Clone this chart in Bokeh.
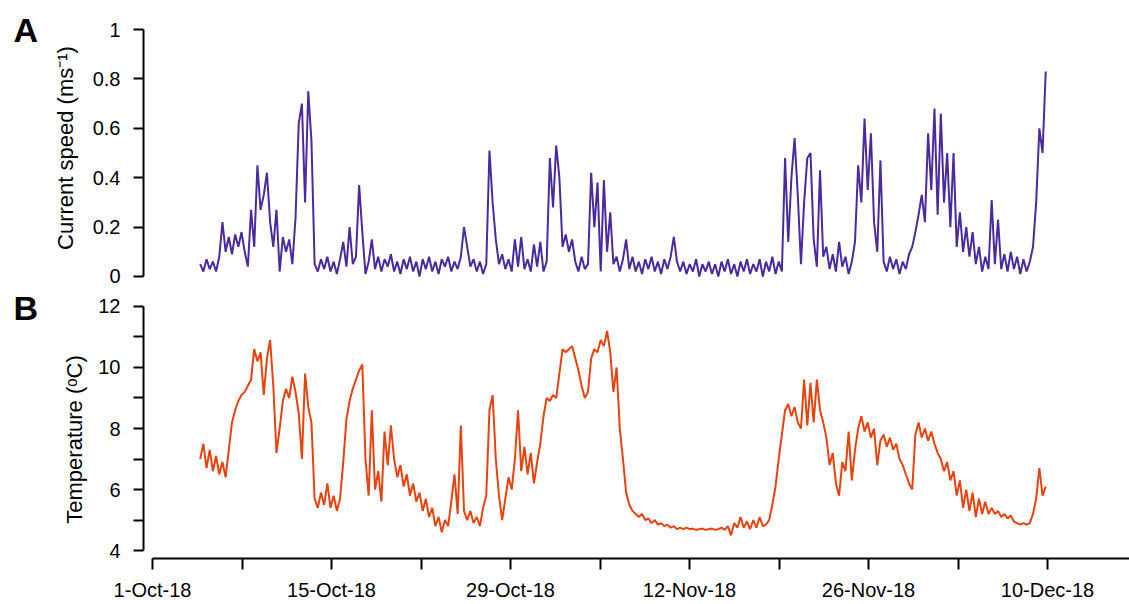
import numpy as np
from bokeh.plotting import figure
from bokeh.layouts import column
from bokeh.models import Range1d, FixedTicker, Label
from bokeh.embed import file_html
from bokeh.resources import INLINE

# ---------------- data ----------------
# samples about every 6 h, first sample ~3.7 days after 1-Oct-18
start_day = 3.73
step_day = 0.2486

speed = [
    0.05,
    0.02, 0.07, 0.03, 0.06,   # 4
    0.02, 0.08, 0.22, 0.10,   # 5
    0.16, 0.09, 0.17, 0.12,   # 6
    0.18, 0.10, 0.04, 0.27,   # 7
    0.12, 0.45, 0.27, 0.33,   # 8
    0.42, 0.22, 0.12, 0.27,   # 9
    0.02, 0.16, 0.10, 0.15,   # 10
    0.05, 0.24, 0.62, 0.70,   # 11
    0.30, 0.75, 0.55, 0.05,   # 12
    0.02, 0.07, 0.03, 0.08,   # 13
    0.02, 0.06, 0.01, 0.07,   # 14
    0.14, 0.04, 0.20, 0.05,   # 15
    0.08, 0.37, 0.18, 0.01,   # 16
    0.06, 0.15, 0.03, 0.08,   # 17
    0.02, 0.07, 0.04, 0.09,   # 18
    0.02, 0.06, 0.01, 0.07,   # 19
    0.03, 0.08, 0.02, 0.06,   # 20
    0.00, 0.07, 0.03, 0.08,   # 21
    0.02, 0.06, 0.01, 0.07,   # 22
    0.04, 0.08, 0.02, 0.06,   # 23
    0.03, 0.08, 0.20, 0.12,   # 24
    0.04, 0.07, 0.02, 0.06,   # 25
    0.01, 0.05, 0.51, 0.30,   # 26
    0.15, 0.05, 0.09, 0.03,   # 27
    0.07, 0.02, 0.15, 0.04,   # 28
    0.16, 0.03, 0.07, 0.02,   # 29
    0.13, 0.04, 0.14, 0.02,   # 30
    0.06, 0.48, 0.28, 0.53,   # 31
    0.40, 0.12, 0.17, 0.10,   # 32
    0.15, 0.06, 0.02, 0.08,   # 33
    0.03, 0.05, 0.42, 0.20,   # 34
    0.38, 0.02, 0.39, 0.10,   # 35
    0.26, 0.05, 0.08, 0.02,   # 36
    0.07, 0.15, 0.03, 0.08,   # 37
    0.02, 0.06, 0.01, 0.07,   # 38
    0.03, 0.08, 0.02, 0.06,   # 39
    0.01, 0.07, 0.03, 0.08,   # 40
    0.16, 0.06, 0.02, 0.06,   # 41
    0.01, 0.05, 0.02, 0.07,   # 42
    0.00, 0.05, 0.02, 0.06,   # 43
    0.01, 0.05, 0.00, 0.06,   # 44
    0.02, 0.07, 0.01, 0.05,   # 45
    0.00, 0.06, 0.02, 0.07,   # 46
    0.01, 0.05, 0.02, 0.07,   # 47
    0.00, 0.06, 0.02, 0.08,   # 48
    0.01, 0.06, 0.02, 0.48,   # 49
    0.14, 0.40, 0.56, 0.33,   # 50
    0.05, 0.30, 0.48, 0.50,   # 51
    0.15, 0.04, 0.43, 0.08,   # 52
    0.12, 0.03, 0.09, 0.02,   # 53
    0.14, 0.04, 0.08, 0.01,   # 54
    0.06, 0.14, 0.45, 0.30,   # 55
    0.64, 0.35, 0.58, 0.22,   # 56
    0.10, 0.47, 0.06, 0.02,   # 57
    0.08, 0.03, 0.07, 0.01,   # 58
    0.06, 0.03, 0.09, 0.12,   # 59
    0.18, 0.25, 0.33, 0.22,   # 60
    0.58, 0.35, 0.68, 0.25,   # 61
    0.66, 0.30, 0.50, 0.20,   # 62
    0.50, 0.12, 0.26, 0.10,   # 63
    0.20, 0.08, 0.18, 0.05,   # 64
    0.12, 0.02, 0.08, 0.03,   # 65
    0.31, 0.05, 0.23, 0.03,   # 66
    0.09, 0.02, 0.10, 0.03,   # 67
    0.08, 0.01, 0.07, 0.02,   # 68
    0.06, 0.12, 0.30, 0.60,   # 69
    0.50, 0.83,               # 70
]

temperature = [
    7.0,
    7.5, 6.7, 7.3, 6.6,       # 4
    7.1, 6.5, 6.9, 6.4,       # 5
    7.3, 8.2, 8.6, 8.9,       # 6
    9.1, 9.2, 9.4, 9.6,       # 7
    10.6, 10.2, 10.5, 9.1,    # 8
    10.3, 10.9, 9.4, 7.2,     # 9
    8.0, 8.9, 9.3, 9.0,       # 10
    9.7, 9.2, 8.5, 7.0,       # 11
    9.8, 8.7, 8.2, 5.7,       # 12
    5.4, 5.9, 5.5, 6.2,       # 13
    5.4, 5.8, 5.3, 5.7,       # 14
    6.9, 8.3, 8.9, 9.3,       # 15
    9.6, 9.9, 10.1, 7.0,      # 16
    5.8, 8.6, 6.0, 6.6,       # 17
    5.6, 7.9, 6.8, 8.1,       # 18
    7.0, 6.4, 6.8, 6.1,       # 19
    6.5, 5.8, 6.2, 5.6,       # 20
    5.9, 5.3, 5.7, 5.1,       # 21
    5.4, 4.8, 5.1, 4.6,       # 22
    5.0, 4.8, 5.6, 6.5,       # 23
    5.2, 8.1, 5.3, 5.0,       # 24
    5.3, 4.9, 5.1, 4.8,       # 25
    5.4, 5.8, 8.6, 9.1,       # 26
    7.0, 5.8, 5.0, 5.7,       # 27
    6.4, 6.0, 7.0, 8.6,       # 28
    6.6, 7.4, 6.5, 7.2,       # 29
    6.2, 6.9, 7.5, 8.4,       # 30
    9.0, 8.9, 9.1, 9.0,       # 31
    9.8, 10.6, 10.5, 10.6,    # 32
    10.7, 10.3, 9.9, 9.4,     # 33
    9.0, 9.2, 10.3, 10.6,     # 34
    10.5, 10.9, 10.7, 11.2,   # 35
    10.5, 9.2, 10.0, 8.0,     # 36
    7.0, 5.9, 5.5, 5.3,       # 37
    5.2, 5.1, 5.2, 5.0,       # 38
    5.05, 4.9, 5.0, 4.85,     # 39
    4.9, 4.8, 4.85, 4.75,     # 40
    4.8, 4.7, 4.75, 4.7,      # 41
    4.75, 4.7, 4.72, 4.68,    # 42
    4.7, 4.72, 4.68, 4.7,     # 43
    4.72, 4.68, 4.7, 4.75,    # 44
    4.68, 4.8, 4.5, 4.9,      # 45
    4.75, 5.1, 4.75, 4.95,    # 46
    4.7, 5.0, 4.75, 5.1,      # 47
    4.8, 4.85, 5.0, 5.5,      # 48
    6.1, 7.0, 7.8, 8.6,       # 49
    8.8, 8.4, 8.7, 8.2,       # 50
    8.0, 9.6, 8.1, 9.5,       # 51
    8.2, 9.6, 8.6, 8.2,       # 52
    7.7, 6.8, 7.2, 6.2,       # 53
    5.8, 6.9, 6.6, 7.9,       # 54
    6.3, 7.3, 8.0, 8.4,       # 55
    7.9, 8.2, 7.7, 8.0,       # 56
    6.8, 7.6, 7.8, 7.4,       # 57
    7.7, 7.3, 7.5, 7.0,       # 58
    6.8, 6.5, 6.2, 6.0,       # 59
    7.8, 8.2, 7.7, 8.0,       # 60
    7.6, 7.9, 7.5, 7.2,       # 61
    7.0, 6.6, 6.9, 6.3,       # 62
    6.6, 5.8, 6.3, 5.4,       # 63
    6.0, 5.3, 5.9, 5.1,       # 64
    5.7, 5.2, 5.6, 5.2,       # 65
    5.4, 5.2, 5.3, 5.1,       # 66
    5.2, 5.05, 5.15, 4.95,    # 67
    4.9, 4.85, 4.9, 4.85,     # 68
    4.9, 5.2, 5.7, 6.7,       # 69
    5.8, 6.1,                 # 70
]

x_tick_days = [0, 7, 14, 21, 28, 35, 42, 49, 56, 63, 70]
x_tick_labels = ["1-Oct-18", "", "15-Oct-18", "", "29-Oct-18", "",
                 "12-Nov-18", "", "26-Nov-18", "", "10-Dec-18"]
speed_ticks = [0, 0.2, 0.4, 0.6, 0.8, 1]
speed_tick_labels = ["0", "0.2", "0.4", "0.6", "0.8", "1"]
temp_ticks = [4, 5, 6, 7, 8, 9, 10, 11, 12]
temp_tick_labels = ["4", "", "6", "", "8", "", "10", "", "12"]
speed_title = "Current speed (ms\u207b\u00b9)"
temp_title = "Temperature (\u1d52C)"

days_speed = start_day + step_day * np.arange(len(speed))
days_temp = start_day + step_day * np.arange(len(temperature))

FONT = "Liberation Sans"
PURPLE = "#4a2a9e"
ORANGE = "#e8420e"

x_range = Range1d(-0.704, 76.41)


def style_y(p, ticks, labels, bounds):
    ax = p.yaxis[0]
    ax.ticker = FixedTicker(ticks=ticks)
    ax.major_label_overrides = {t: l for t, l in zip(ticks, labels)}
    ax.bounds = bounds
    ax.axis_line_width = 2
    ax.major_tick_line_width = 2
    ax.major_tick_in = 0
    ax.major_tick_out = 10
    ax.minor_tick_line_color = None
    ax.major_label_standoff = 13
    ax.major_label_text_font = FONT
    ax.major_label_text_font_size = "20px"
    ax.major_label_text_color = "black"


def side_text(p, x, y, text, size, bold=False, angle=0.0, align="left"):
    p.add_layout(Label(x=x, y=y, text=text, text_font=FONT,
                       text_font_size=size,
                       text_font_style="bold" if bold else "normal",
                       text_color="black", angle=angle,
                       text_baseline="middle", text_align=align), "left")


# ---------------- panel A ----------------
pA = figure(width=1129, height=288, output_backend="svg", toolbar_location=None,
            x_range=x_range, y_range=Range1d(-0.0486, 1.0324),
            x_axis_location=None, min_border_left=143, min_border_right=0,
            min_border_top=21, min_border_bottom=0)
pA.outline_line_color = None
pA.grid.visible = False
pA.line(days_speed, speed, line_color=PURPLE, line_width=2)
style_y(pA, speed_ticks, speed_tick_labels, (0, 1))
side_text(pA, -6.80, 0.520, speed_title, "22px", angle=np.pi / 2, align="center")
side_text(pA, -10.87, 0.996, "A", "34px", bold=True)

# ---------------- panel B ----------------
pB = figure(width=1129, height=315, output_backend="svg", toolbar_location=None,
            x_range=x_range, y_range=Range1d(3.74, 12.26),
            min_border_left=143, min_border_right=0,
            min_border_top=10, min_border_bottom=43)
pB.outline_line_color = None
pB.grid.visible = False
pB.line(days_temp, temperature, line_color=ORANGE, line_width=2)
style_y(pB, temp_ticks, temp_tick_labels, (4, 12))
side_text(pB, -6.12, 7.64, temp_title, "22px", angle=np.pi / 2, align="center")
side_text(pB, -10.87, 11.935, "B", "34px", bold=True)

xa = pB.xaxis[0]
xa.ticker = FixedTicker(ticks=x_tick_days)
xa.major_label_overrides = {t: l for t, l in zip(x_tick_days, x_tick_labels)}
xa.bounds = (0, 80)
xa.axis_line_width = 2
xa.major_tick_line_width = 2
xa.major_tick_in = 0
xa.major_tick_out = 11
xa.minor_tick_line_color = None
xa.major_label_standoff = 9
xa.major_label_text_font = FONT
xa.major_label_text_font_size = "20px"
xa.major_label_text_color = "black"

layout = column(pA, pB, spacing=0)
open("out.html", "w").write(file_html(layout, INLINE))
